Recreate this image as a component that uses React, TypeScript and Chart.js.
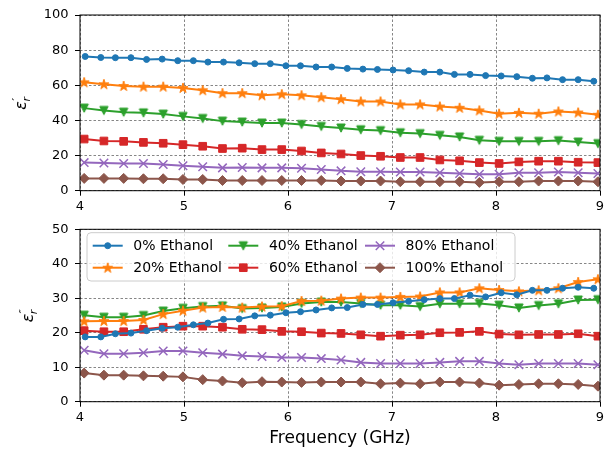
import React, { useEffect, useRef } from 'react';
import { Chart, registerables } from 'chart.js';
import { drawPoint } from 'chart.js/helpers';

Chart.register(...registerables);

// ---------- data ----------
const freqWater = [4.05, 4.20, 4.34, 4.49, 4.64, 4.79, 4.94, 5.09, 5.23, 5.38, 5.53, 5.68, 5.83, 5.98, 6.12, 6.27, 6.42, 6.57, 6.72, 6.86, 7.01, 7.16, 7.31, 7.46, 7.60, 7.75, 7.90, 8.05, 8.20, 8.35, 8.49, 8.64, 8.79, 8.94];
const freqMix = [4.04, 4.23, 4.42, 4.61, 4.80, 4.99, 5.18, 5.37, 5.56, 5.75, 5.94, 6.13, 6.32, 6.51, 6.70, 6.89, 7.08, 7.27, 7.46, 7.65, 7.84, 8.03, 8.22, 8.41, 8.60, 8.79, 8.98];

const seriesLabels = ['0% Ethanol', '20% Ethanol', '40% Ethanol', '60% Ethanol', '80% Ethanol', '100% Ethanol'];

const real0 = [76.4, 75.8, 75.7, 75.7, 74.7, 74.9, 74.0, 74.0, 73.2, 73.2, 72.8, 72.3, 72.3, 71.1, 71.1, 70.4, 70.4, 69.6, 69.2, 69.0, 68.7, 68.3, 67.5, 67.5, 66.2, 66.2, 65.5, 65.3, 64.9, 64.0, 64.2, 63.2, 63.2, 62.3];
const real20 = [61.7, 60.6, 59.6, 59.2, 59.2, 58.5, 57.2, 55.5, 55.5, 54.3, 54.9, 54.3, 53.2, 52.1, 50.8, 50.8, 49.1, 49.1, 47.9, 47.2, 45.7, 43.8, 44.3, 43.8, 45.1, 44.5, 43.2];
const real40 = [47.0, 45.7, 44.7, 44.3, 43.6, 42.3, 41.1, 39.6, 39.1, 38.5, 38.5, 37.7, 36.6, 35.7, 34.7, 34.2, 33.0, 32.5, 31.5, 30.6, 28.7, 28.1, 28.1, 28.1, 28.5, 27.7, 26.8];
const real60 = [29.4, 28.3, 28.1, 27.5, 27.0, 26.2, 25.3, 24.0, 24.2, 23.4, 23.4, 22.6, 21.5, 20.9, 20.0, 19.6, 18.9, 18.9, 17.5, 17.0, 16.0, 15.5, 16.4, 16.8, 16.8, 16.2, 16.0];
const real80 = [16.0, 15.8, 15.5, 15.5, 14.9, 14.2, 13.6, 13.0, 13.2, 13.0, 13.0, 12.8, 12.1, 11.3, 10.8, 10.8, 10.6, 10.6, 10.2, 9.8, 9.4, 9.4, 10.2, 10.2, 10.6, 10.2, 9.8];
const real100 = [7.0, 7.0, 7.0, 6.8, 6.8, 6.4, 6.4, 5.8, 5.8, 5.8, 5.8, 5.8, 5.8, 5.5, 5.5, 5.5, 5.1, 5.1, 5.1, 5.1, 4.7, 5.1, 5.1, 5.5, 5.5, 5.5, 5.1];

const imag0 = [18.8, 18.8, 19.7, 19.9, 20.6, 21.3, 21.6, 22.3, 22.8, 23.9, 24.0, 24.9, 25.1, 25.8, 26.1, 26.6, 27.2, 27.3, 28.2, 28.2, 28.7, 29.1, 29.6, 29.9, 29.9, 30.9, 30.4, 31.6, 31.0, 32.3, 32.3, 32.9, 33.2, 32.9];
const imag20 = [23.3, 23.4, 23.4, 23.7, 25.4, 26.4, 27.3, 27.5, 27.3, 27.6, 27.7, 29.2, 29.3, 29.9, 30.2, 30.2, 30.4, 30.5, 31.7, 31.7, 32.9, 32.4, 32.0, 32.3, 32.9, 34.7, 35.5];
const imag40 = [25.1, 24.5, 24.5, 25.0, 26.3, 27.1, 27.6, 27.8, 27.0, 27.2, 27.5, 28.5, 28.9, 28.9, 28.5, 28.0, 28.0, 27.6, 28.4, 28.4, 28.5, 28.0, 27.2, 27.9, 28.4, 29.5, 29.6];
const imag60 = [20.6, 20.3, 20.3, 21.0, 21.6, 21.9, 21.9, 21.6, 21.0, 20.9, 20.4, 20.3, 19.9, 19.8, 19.4, 19.0, 19.3, 19.4, 20.0, 20.1, 20.4, 19.6, 19.4, 19.5, 19.5, 19.7, 19.0];
const imag80 = [14.9, 13.9, 13.9, 14.2, 14.7, 14.7, 14.2, 13.8, 13.3, 13.1, 12.8, 12.8, 12.5, 12.1, 11.4, 11.1, 11.1, 11.1, 11.4, 11.7, 11.7, 11.1, 10.7, 11.1, 11.1, 11.1, 10.7];
const imag100 = [8.3, 7.7, 7.7, 7.5, 7.4, 7.2, 6.4, 6.0, 5.5, 5.8, 5.7, 5.6, 5.7, 5.7, 5.7, 5.2, 5.4, 5.2, 5.7, 5.7, 5.4, 4.8, 5.0, 5.2, 5.2, 5.0, 4.5];

const xTickValues = [4, 5, 6, 7, 8, 9];

// ---------- styling ----------
const FONT = '"DejaVu Sans", "Liberation Sans", sans-serif';
const colors = ['#1f77b4', '#ff7f0e', '#2ca02c', '#d62728', '#9467bd', '#8c564b'];

function makeStar(color: string) {
  const c = document.createElement('canvas');
  c.width = 14; c.height = 14;
  const ctx = c.getContext('2d')!;
  const R = 5.3, r = R * 0.381966, cx = 7, cy = 7.3;
  ctx.beginPath();
  for (let i = 0; i < 10; i++) {
    const rad = i % 2 === 0 ? R : r;
    const a = -Math.PI / 2 + (i * Math.PI) / 5;
    const px = cx + rad * Math.cos(a), py = cy + rad * Math.sin(a);
    if (i === 0) ctx.moveTo(px, py); else ctx.lineTo(px, py);
  }
  ctx.closePath();
  ctx.fillStyle = color; ctx.strokeStyle = color; ctx.lineWidth = 1;
  ctx.fill(); ctx.stroke();
  return c;
}

function makeTriDown(color: string) {
  const c = document.createElement('canvas');
  c.width = 12; c.height = 12;
  const ctx = c.getContext('2d')!;
  ctx.beginPath();
  ctx.moveTo(1.8, 2); ctx.lineTo(10.2, 2); ctx.lineTo(6, 10.2); ctx.closePath();
  ctx.fillStyle = color; ctx.strokeStyle = color; ctx.lineWidth = 1;
  ctx.fill(); ctx.stroke();
  return c;
}

function markerStyles() {
  return [
    { pointStyle: 'circle' as any, radius: 3, borderWidth: 1 },
    { pointStyle: makeStar(colors[1]) as any, radius: 5.5, borderWidth: 1 },
    { pointStyle: makeTriDown(colors[2]) as any, radius: 5, borderWidth: 1 },
    { pointStyle: 'rect' as any, radius: 5.4, borderWidth: 1 },
    { pointStyle: 'crossRot' as any, radius: 6, borderWidth: 1.5 },
    { pointStyle: 'rectRot' as any, radius: 5, borderWidth: 1 },
  ];
}

function buildDatasets(series: number[][], markers: any[]) {
  return series.map((vals, i) => {
    const xs = i === 0 ? freqWater : freqMix;
    return {
      label: seriesLabels[i],
      data: vals.map((v, k) => ({ x: xs[k], y: v })),
      borderColor: colors[i],
      backgroundColor: colors[i],
      borderWidth: 2,
      pointStyle: markers[i].pointStyle,
      pointRadius: markers[i].radius,
      pointBorderWidth: markers[i].borderWidth,
      pointBackgroundColor: colors[i],
      pointBorderColor: colors[i],
      tension: 0,
      fill: false,
    };
  });
}

function framePlugin(yLabel: { cx: number; primes: string }, extra?: (chart: any) => void) {
  return {
    id: 'frameAndLabels',
    afterDraw(chart: any) {
      const ctx = chart.ctx as CanvasRenderingContext2D;
      const a = chart.chartArea;
      ctx.save();
      ctx.setLineDash([]);
      ctx.strokeStyle = '#000';
      ctx.lineWidth = 1;
      ctx.strokeRect(a.left, a.top, a.right - a.left, a.bottom - a.top);
      // y label (epsilon with primes and subscript r), rotated
      const cy = (a.top + a.bottom) / 2;
      ctx.translate(yLabel.cx, cy);
      ctx.rotate(-Math.PI / 2);
      ctx.fillStyle = '#000';
      ctx.textBaseline = 'alphabetic';
      ctx.textAlign = 'left';
      const big = `italic 16px ${FONT}`;
      const small = `italic 11px ${FONT}`;
      ctx.font = big;
      const wE = ctx.measureText('ε').width;
      ctx.font = small;
      const wP = ctx.measureText(yLabel.primes).width;
      const wR = ctx.measureText('r').width;
      const total = wE + Math.max(wP, wR) + 0.5;
      const x0 = -total / 2;
      ctx.font = big;
      ctx.fillText('ε', x0, 4);
      ctx.font = small;
      ctx.fillText(yLabel.primes, x0 + wE + 0.5, -2.5);
      ctx.fillText('r', x0 + wE - 0.5, 7.5);
      ctx.restore();
      if (extra) extra(chart);
    },
  };
}

function makeOptions(yMax: number, yStep: number, xAxisHeight: number, padTop: number) {
  const tickFont = { family: FONT, size: 13 };
  return {
    responsive: false,
    animation: false as const,
    layout: { padding: { left: 0, right: 8, top: padTop, bottom: 0 } },
    plugins: { legend: { display: false }, tooltip: { enabled: false }, title: { display: false } },
    scales: {
      x: {
        type: 'linear' as const,
        min: 4,
        max: 9,
        afterBuildTicks: (s: any) => { s.ticks = xTickValues.map((v) => ({ value: v })); },
        ticks: { color: '#000', font: tickFont, padding: 3, maxRotation: 0, autoSkip: false },
        grid: { color: 'rgba(0,0,0,0.6)', lineWidth: 0.8, tickLength: 5, tickColor: '#000', tickWidth: 1, tickBorderDash: [] },
        border: { display: false, dash: [2.5, 2] },
        afterFit: (s: any) => { s.height = xAxisHeight; },
      },
      y: {
        type: 'linear' as const,
        min: 0,
        max: yMax,
        ticks: { stepSize: yStep, color: '#000', font: tickFont, padding: 6.5 },
        grid: { color: 'rgba(0,0,0,0.6)', lineWidth: 0.8, tickLength: 5, tickColor: '#000', tickWidth: 1, tickBorderDash: [] },
        border: { display: false, dash: [2.5, 2] },
        afterFit: (s: any) => { s.width = 80; },
      },
    },
  };
}

const TOP_H = 222;
const BOT_TOP = 215;
const BOT_H = 236;

export default function App() {
  const topRef = useRef<HTMLCanvasElement>(null);
  const botRef = useRef<HTMLCanvasElement>(null);

  useEffect(() => {
    const markers = markerStyles();

    const topChart = new Chart(topRef.current!, {
      type: 'line',
      data: { datasets: buildDatasets([real0, real20, real40, real60, real80, real100], markers) as any },
      options: makeOptions(100, 20, TOP_H - 190.7, 15) as any,
      plugins: [framePlugin({ cx: 22, primes: '′' })],
    });

    const legendDraw = (chart: any) => {
      const ctx = chart.ctx as CanvasRenderingContext2D;
      ctx.save();
      ctx.setLineDash([]);
      // legend frame
      const bx = 87, by = 17.7, bw = 428, bh = 48.3, rr = 4;
      ctx.beginPath();
      ctx.moveTo(bx + rr, by);
      ctx.arcTo(bx + bw, by, bx + bw, by + bh, rr);
      ctx.arcTo(bx + bw, by + bh, bx, by + bh, rr);
      ctx.arcTo(bx, by + bh, bx, by, rr);
      ctx.arcTo(bx, by, bx + bw, by, rr);
      ctx.closePath();
      ctx.fillStyle = 'rgba(255,255,255,0.8)';
      ctx.fill();
      ctx.strokeStyle = '#cccccc';
      ctx.lineWidth = 1;
      ctx.stroke();
      const colX = [92.7, 228.3, 365];
      const rowY = [30.7, 52.7];
      ctx.font = `14px ${FONT}`;
      ctx.textBaseline = 'middle';
      ctx.textAlign = 'left';
      for (let i = 0; i < seriesLabels.length; i++) {
        const col = Math.floor(i / 2), row = i % 2;
        const x = colX[col], y = rowY[row];
        ctx.strokeStyle = colors[i];
        ctx.lineWidth = 2;
        ctx.beginPath();
        ctx.moveTo(x, y);
        ctx.lineTo(x + 30, y);
        ctx.stroke();
        ctx.fillStyle = colors[i];
        ctx.lineWidth = markers[i].borderWidth;
        drawPoint(ctx, { pointStyle: markers[i].pointStyle, radius: markers[i].radius, rotation: 0, borderWidth: markers[i].borderWidth } as any, x + 15, y);
        ctx.fillStyle = '#000';
        ctx.fillText(seriesLabels[i], x + 40.6, y + 0.5);
      }
      // x axis title
      ctx.font = `17px ${FONT}`;
      ctx.textAlign = 'center';
      ctx.fillStyle = '#000';
      const a = chart.chartArea;
      ctx.fillText('Frequency (GHz)', (a.left + a.right) / 2, 439 - BOT_TOP);
      ctx.restore();
    };

    const botChart = new Chart(botRef.current!, {
      type: 'line',
      data: { datasets: buildDatasets([imag0, imag20, imag40, imag60, imag80, imag100], markers) as any },
      options: makeOptions(50, 10, BOT_H - (401.7 - BOT_TOP), 226 - BOT_TOP) as any,
      plugins: [framePlugin({ cx: 29, primes: '″' }, legendDraw)],
    });

    return () => {
      topChart.destroy();
      botChart.destroy();
    };
  }, []);

  return (
    <div style={{ position: 'fixed', left: 0, top: 0, width: 608, height: 451, background: '#fff' }}>
      <canvas ref={topRef} width={608} height={TOP_H} style={{ position: 'absolute', left: 0, top: 0, width: 608, height: TOP_H }} />
      <canvas ref={botRef} width={608} height={BOT_H} style={{ position: 'absolute', left: 0, top: BOT_TOP, width: 608, height: BOT_H }} />
    </div>
  );
}
